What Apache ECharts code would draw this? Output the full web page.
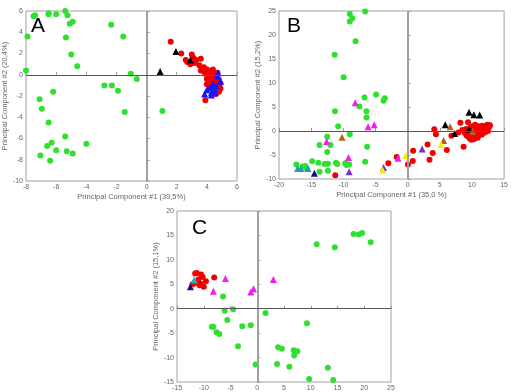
<!DOCTYPE html>
<html>
<head>
    <meta charset="utf-8">
    <title>PCA scores</title>
    <script src="https://cdn.jsdelivr.net/npm/echarts@6/dist/echarts.min.js"></script>
</head>
<body style="margin:0;background:#fff">
    <div id="main" style="width:511px;height:392px;"></div>
    <script type="text/javascript">
// ---- panel A ----
var aGreen = [[-7.9,3.6],[-8.0,0.4],[-7.5,5.5],[-7.4,5.6],[-6.5,5.7],[-6.5,5.8],[-6.0,5.7],[-5.4,6.0],[-5.25,5.6],[-5.1,4.8],
  [-4.9,5.0],[-5.35,3.5],[-5.0,1.9],[-4.6,0.8],[-2.35,4.7],[-1.55,3.6],[-1.05,0.1],[-0.65,-0.4],[-2.8,-1.0],[-2.3,-1.0],
  [-1.9,-1.5],[-1.45,-3.5],[1.05,-3.4],[-6.2,-1.6],[-7.1,-2.3],[-6.95,-3.2],[-6.5,-4.5],[-5.4,-5.8],[-4.0,-6.5],[-6.6,-6.7],
  [-6.3,-6.4],[-6.0,-7.1],[-5.3,-7.2],[-4.9,-7.4],[-7.05,-7.6],[-6.4,-8.1]];
var aRed = [[1.6,3.1],[2.3,2.0],[3.0,1.9],[3.1,1.6],[2.7,1.2],[2.9,1.0],[3.2,1.1],[3.3,1.4],[2.6,1.4],[3.6,1.5],
  [3.5,0.9],[3.8,0.7],[3.6,0.4],[4.0,0.5],[4.2,0.3],[4.4,0.5],[3.9,0.1],[4.1,-0.1],[4.3,-0.2],[4.5,-0.1],
  [4.7,-0.3],[4.0,-0.4],[4.2,-0.6],[4.4,-0.5],[4.6,-0.6],[4.8,-0.5],[4.9,-0.8],[4.5,-0.9],[4.3,-1.0],[4.7,-1.1],
  [4.9,-1.3],[4.6,-1.4],[4.8,-1.6],[4.4,-1.3],[4.0,-0.9],[3.9,-2.4],[4.5,0.0],[4.7,0.2],[4.1,0.3],[3.8,0.3],
  [4.6,-1.8],[4.8,-1.0],[4.2,-1.2]];
var aBlue = [[4.75,0.2],[4.9,-0.6],[3.85,-1.8],[4.4,-1.5],[4.2,-1.2],[4.3,-1.7],[4.5,-1.3],[4.6,-1.0],[4.4,-0.9],
  [4.7,-0.1],[4.3,-1.9],[4.55,-1.7],[4.0,-1.4]];
var aBlack = [[0.9,0.3],[1.95,2.2],[2.9,1.4]];

// ---- panel B ----
var bGreen = [[-6.6,24.9],[-9.0,24.4],[-9.0,22.8],[-8.6,23.5],[-8.1,18.7],[-11.35,15.9],[-9.95,11.2],[-6.7,7.0],[-4.9,7.6],
  [-3.75,6.3],[-3.55,6.8],[-7.5,5.1],[-6.4,4.1],[-6.4,2.8],[-11.3,4.1],[-10.8,1.0],[-9.0,-0.7],[-6.3,-3.3],[-12.5,-1.2],
  [-12.0,-2.9],[-13.7,-2.9],[-12.5,-4.4],[-6.6,-6.4],[-14.85,-6.3],[-13.9,-6.6],[-12.9,-6.9],[-12.4,-6.8],[-11.15,-6.6],
  [-10.95,-6.9],[-9.7,-6.7],[-9.5,-7.1],[-9.1,-7.0],[-12.4,-8.3],[-13.7,-8.5],[-17.3,-7.0],[-16.3,-7.4],[-15.9,-7.3],
  [-15.7,-7.8]];
var bRed = [[-11.25,-9.2],[-3.0,-6.7],[-1.7,-5.4],[0.05,-7.0],[0.8,-6.25],[0.85,-4.1],[3.1,-2.8],[3.4,-6.0],[3.9,-4.6],
  [4.15,0.37],[4.4,-0.7],[6.1,-3.95],[6.8,-1.0],[8.7,-3.3],[8.2,1.7],[9.4,1.8],[8.5,0.2],[8.9,-0.4],[9.2,-1.0],[9.6,-1.5],
  [9.9,-1.8],[10.2,-1.2],[10.5,-0.8],[10.0,-0.3],[10.4,0.3],[10.8,0.6],[11.0,1.0],[10.5,1.3],[11.3,0.8],[11.6,1.1],
  [12.0,1.0],[12.4,1.3],[12.7,0.9],[12.2,0.4],[11.8,0.2],[11.4,-0.2],[11.0,-0.5],[10.7,-0.9],[10.9,-1.4],[11.5,-0.8],
  [12.0,-0.3],[12.5,0.0],[9.8,0.8],[9.1,0.4],[7.9,-0.3],[10.3,-1.7],[11.2,0.3],[9.5,-0.6],[12.8,1.2],[10.1,1.0]];
var bBlack = [[9.55,3.9],[10.3,3.4],[11.2,3.35],[5.85,1.3],[7.3,-0.5],[9.55,0.4]];
var bBrown = [[-10.2,-1.3],[6.6,0.9],[5.6,-2.0],[10.1,-0.1]];
var bMagenta = [[-8.15,5.9],[-6.15,0.9],[-5.2,1.3],[-12.6,-2.2],[-9.2,-5.5],[-1.5,-5.7]];
var bPurple = [[-9.1,-8.5],[-3.75,-7.6],[2.25,-3.75]];
var bYellow = [[-3.9,-8.1],[-0.3,-5.1],[5.2,-2.8]];
var bCyan = [[-17.1,-7.8],[-16.6,-7.8],[-15.5,-7.8]];
var bNavy = [[-14.5,-8.8]];

// ---- panel C ----
var cGreen = [[11.1,13.2],[14.5,12.6],[18.0,15.3],[19.0,15.2],[19.6,15.5],[21.2,13.6],[-6.4,2.5],[-6.1,-0.4],[-4.5,-0.1],
  [-5.6,-2.3],[-8.5,-3.7],[-8.2,-3.7],[-7.6,-4.8],[-7.1,-5.2],[-2.8,-3.6],[-1.2,-3.4],[-3.6,-7.7],[-0.3,-11.4],[1.55,-0.9],
  [3.9,-7.9],[4.6,-8.2],[6.8,-8.5],[7.5,-8.7],[6.9,-9.6],[9.3,-3.0],[3.7,-11.3],[6.0,-11.9],[9.7,-14.4],[13.2,-12.1],
  [14.2,-14.6]];
var cRed = [[-11.6,7.2],[-11.3,7.3],[-10.5,7.0],[-10.2,6.5],[-9.6,5.6],[-10.0,4.5],[-10.6,5.1],[-11.7,5.2],[-8.05,6.4],
  [-12.1,5.0],[-11.0,6.0],[-10.8,4.8]];
var cCyan = [[-11.8,5.9]];
var cNavy = [[-12.5,4.5]];
var cMagenta = [[-5.95,6.2],[-8.2,3.6],[-1.2,3.4],[-0.7,4.1],[3.0,6.0]];

var panels = [
  {grid: {left: 22, top: 11, width: 215, height: 170}, x: [-8, 6, 2], y: [-10, 6, 2],
   xName: 'Principal Component #1 (39,5%)', yName: 'Principal Component #2 (20,4%)', letter: 'A',
   sets: [[aGreen, 'circle', '#2fe02f'], [aRed, 'circle', '#f20000'], [aBlue, 'triangle', '#1414ff'], [aBlack, 'triangle', '#000']]},
  {grid: {left: 279, top: 11, width: 227, height: 168}, x: [-20, 15, 5], y: [-10, 25, 5],
   xName: 'Principal Component #1 (35,0 %)', yName: 'Principal Component #2 (15,2%)', letter: 'B',
   sets: [[bGreen, 'circle', '#2fe02f'], [bRed, 'circle', '#f20000'], [bBlack, 'triangle', '#000'], [bBrown, 'triangle', '#b8601c'],
          [bMagenta, 'triangle', '#f020f0'], [bPurple, 'triangle', '#7a2ed0'], [bYellow, 'triangle', '#f4f000'],
          [bCyan, 'triangle', '#1e9fb0'], [bNavy, 'triangle', '#10107a']]},
  {grid: {left: 177, top: 211, width: 214, height: 171}, x: [-15, 25, 5], y: [-15, 20, 5],
   xName: '', yName: 'Principal Component #2 (15,1%)', letter: 'C',
   sets: [[cGreen, 'circle', '#2fe02f'], [cRed, 'circle', '#f20000'], [cCyan, 'triangle', '#1eb0c0'],
          [cNavy, 'triangle', '#10107a'], [cMagenta, 'triangle', '#f020f0']]}
];

var grids = [], xAxes = [], yAxes = [], series = [], graphics = [];
var tickFont = {color: '#666', fontSize: 7, fontFamily: 'Liberation Sans'};

panels.forEach(function (p, i) {
  grids.push(Object.assign({show: true, borderColor: '#a0a0a0', borderWidth: 1, backgroundColor: '#fff'}, p.grid));
  xAxes.push({gridIndex: i, type: 'value', min: p.x[0], max: p.x[1], interval: p.x[2],
    name: p.xName, nameLocation: 'middle', nameGap: 12, nameTextStyle: {color: '#666', fontSize: 7.5, fontFamily: 'Liberation Sans'},
    axisLine: {show: false}, axisTick: {inside: true, length: 3, lineStyle: {color: '#999'}},
    axisLabel: Object.assign({margin: 3}, tickFont), splitLine: {show: false}});
  yAxes.push({gridIndex: i, type: 'value', min: p.y[0], max: p.y[1], interval: p.y[2],
    name: p.yName, nameLocation: 'middle', nameGap: 13, nameTextStyle: {color: '#666', fontSize: 7.5, fontFamily: 'Liberation Sans'},
    axisLine: {show: false}, axisTick: {inside: true, length: 3, lineStyle: {color: '#999'}},
    axisLabel: Object.assign({margin: 3}, tickFont), splitLine: {show: false}});
  // zero lines
  series.push({type: 'scatter', xAxisIndex: i, yAxisIndex: i, data: [], z: 1,
    markLine: {silent: true, symbol: 'none', label: {show: false}, animation: false,
      data: [{xAxis: 0, lineStyle: {color: '#a0a0a0', width: 2, type: 'solid'}},
             {yAxis: 0, lineStyle: {color: '#555', width: 1, type: 'solid'}}]}});
  p.sets.forEach(function (s) {
    series.push({type: 'scatter', xAxisIndex: i, yAxisIndex: i, data: s[0], z: 3,
      symbol: s[1], symbolSize: s[1] === 'circle' ? 6 : 7, itemStyle: {color: s[2], opacity: 1}});
  });
});

graphics.push({type: 'text', left: 31, top: 16, style: {text: 'A', fontSize: 21, fill: '#000', fontFamily: 'Liberation Sans'}});
graphics.push({type: 'text', left: 287, top: 16, style: {text: 'B', fontSize: 21, fill: '#000', fontFamily: 'Liberation Sans'}});
graphics.push({type: 'text', left: 192, top: 218, style: {text: 'C', fontSize: 21, fill: '#000', fontFamily: 'Liberation Sans'}});

var myChart = echarts.init(document.getElementById('main'));
myChart.setOption({
  animation: false,
  backgroundColor: '#fff',
  grid: grids,
  xAxis: xAxes,
  yAxis: yAxes,
  series: series,
  graphic: graphics
});
    </script>
</body>
</html>
